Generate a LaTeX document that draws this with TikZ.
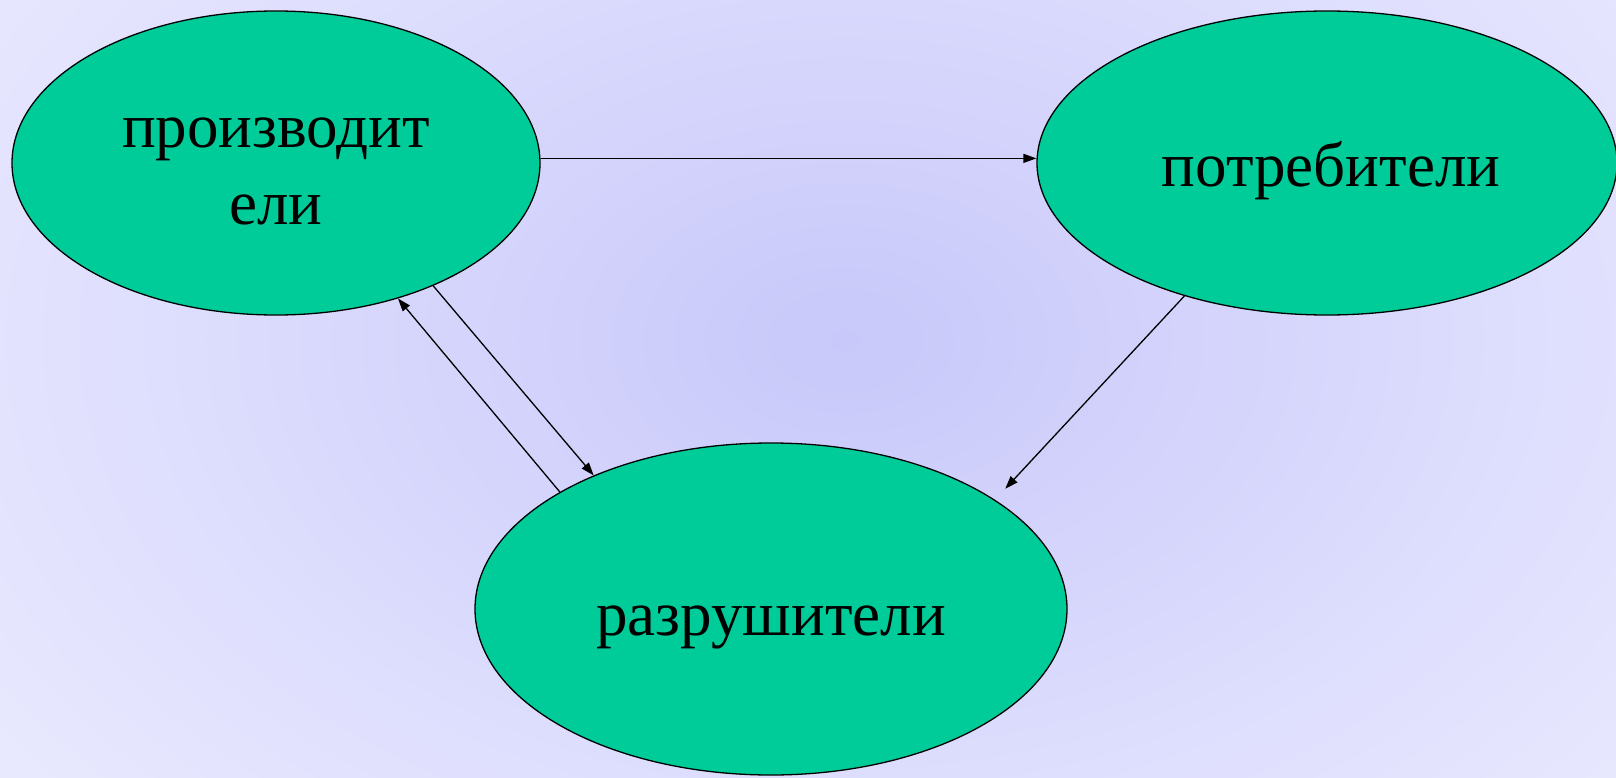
\documentclass[tikz,border=0pt]{standalone}
\usepackage{fontspec}
\setmainfont{Liberation Serif}
\usetikzlibrary{arrows.meta,shapes.geometric}
\definecolor{bgin}{RGB}{200,200,250}
\definecolor{bgmid}{RGB}{224,224,254}
\definecolor{bgout}{RGB}{250,250,255}
\definecolor{nodegreen}{RGB}{0,204,153}
\pgfdeclareradialshading{bgshade}{\pgfpoint{0bp}{0bp}}{color(0bp)=(bgin); color(22bp)=(bgmid); color(50bp)=(bgout); color(100bp)=(bgout)}
\tikzset{
  blob/.style={ellipse, draw=black, line width=1.3pt, fill=nodegreen, inner sep=0pt},
  lbl/.style={anchor=base, inner sep=0pt, font=\fontsize{63}{72}\selectfont},
  conn/.style={line width=1.3pt, -{Triangle[length=13pt,width=9pt]}}
}
\begin{document}
\begin{tikzpicture}[x=1pt,y=-1pt]
\useasboundingbox (0,0) rectangle (1616,778);
\begin{scope}
  \clip (0,0) rectangle (1616,778);
  \shade[shading=bgshade] (-5,-230) rectangle (1695,910);
\end{scope}
\node[blob, minimum width=528pt, minimum height=304pt] (P) at (276,163) {};
\node[blob, minimum width=580pt, minimum height=304pt] (S) at (1327,163) {};
\node[blob, minimum width=592pt, minimum height=332pt] (D) at (771,609) {};
\node[lbl] (P1) at (276,148) {производит};
\node[lbl] (P2) at (276,225) {ели};
\node[lbl] (S1) at (1331,187) {потребители};
\node[lbl] (D1) at (771,635) {разрушители};
\draw[conn] (P.1.5) -- (P.1.5 -| S.west);
\draw[conn] (P.-38.5) -- (D.143.7);
\draw[conn] (D.151.4) -- (P.-48.8);
\draw[conn, shorten >=15pt] (S.-137) -- (D.26.8);
\end{tikzpicture}
\end{document}
